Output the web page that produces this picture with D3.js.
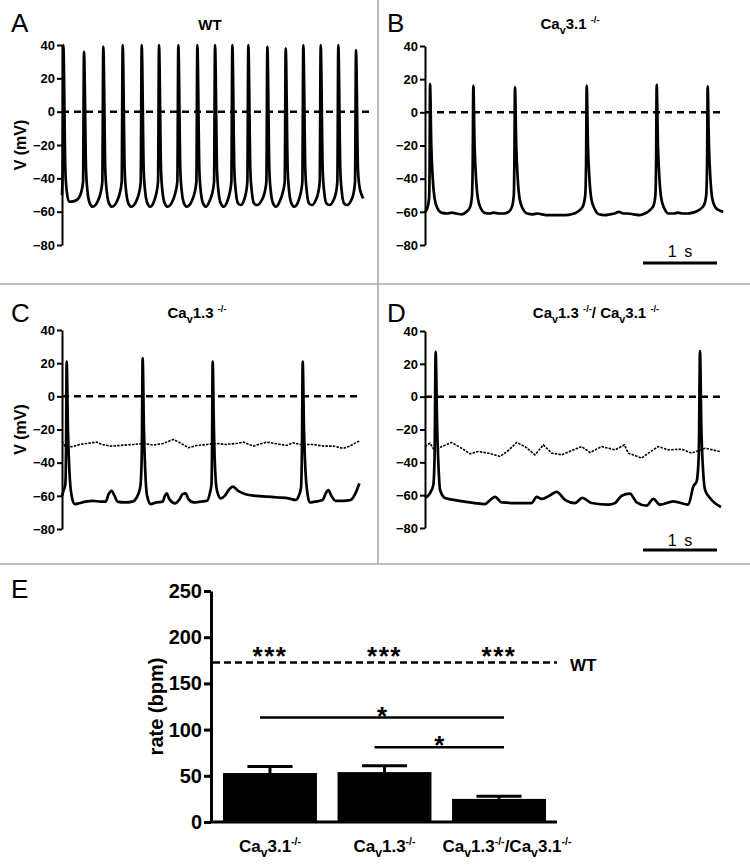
<!DOCTYPE html>
<html><head><meta charset="utf-8">
<script src="https://cdn.jsdelivr.net/npm/d3@7/dist/d3.min.js"></script>
<style>body{margin:0;background:#fff}svg{display:block}text{font-family:"Liberation Sans",Arial,sans-serif}</style>
</head><body><svg id="c" width="750" height="867"></svg>
<script>
// ---------- DATA ----------
const voltTicks = [40, 20, 0, -20, -40, -60, -80];
// traces: [time (s), V (mV)]
const traceWT = [[0,-50],[0.010,-30],[0.018,40],
[0.045,-35],[0.065,-48],[0.095,-54],[0.125,-54],[0.20,-53],[0.255,-49],[0.285,-42],[0.297,36],
[0.325,-35],[0.345,-48],[0.375,-55],[0.415,-57],[0.49,-53],[0.52,-49],[0.545,-42],[0.558,39],
[0.585,-35],[0.605,-48],[0.635,-55],[0.675,-57],[0.75,-53],[0.78,-49],[0.807,-42],[0.82,40],
[0.847,-35],[0.867,-48],[0.897,-55],[0.937,-57],[1.01,-53],[1.04,-49],[1.064,-42],[1.077,40],
[1.104,-35],[1.124,-48],[1.154,-55],[1.194,-57],[1.25,-53],[1.275,-49],[1.298,-42],[1.311,40],
[1.338,-35],[1.358,-48],[1.388,-55],[1.428,-57],[1.50,-53],[1.53,-49],[1.559,-42],[1.572,40],
[1.599,-35],[1.619,-48],[1.649,-55],[1.689,-57],[1.76,-53],[1.79,-49],[1.816,-42],[1.829,40],
[1.856,-35],[1.876,-48],[1.906,-55],[1.946,-57],[2.00,-53],[2.03,-49],[2.055,-42],[2.068,40],
[2.095,-35],[2.115,-48],[2.145,-55],[2.185,-57],[2.24,-53],[2.265,-49],[2.289,-42],[2.302,40],
[2.329,-35],[2.349,-48],[2.379,-55],[2.419,-56],[2.46,-53],[2.485,-49],[2.505,-42],[2.518,40],
[2.545,-35],[2.565,-48],[2.595,-55],[2.635,-56],[2.70,-53],[2.735,-49],[2.762,-42],[2.775,39],
[2.802,-35],[2.822,-48],[2.852,-55],[2.892,-57],[2.95,-53],[2.98,-49],[3.01,-42],[3.023,38],
[3.05,-35],[3.07,-48],[3.10,-55],[3.14,-57],[3.20,-53],[3.225,-49],[3.248,-42],[3.261,40],
[3.288,-35],[3.308,-48],[3.338,-55],[3.378,-56],[3.43,-53],[3.46,-49],[3.483,-42],[3.496,40],
[3.523,-35],[3.543,-48],[3.573,-55],[3.613,-56],[3.67,-53],[3.70,-49],[3.721,-42],[3.734,40],
[3.761,-35],[3.781,-48],[3.811,-55],[3.851,-56],[3.91,-53],[3.94,-49],[3.96,-42],[3.973,37],
[4.00,-35],[4.02,-45],[4.05,-50],[4.07,-52]];

const traceB = [[0,-60],[0.03,-58],[0.055,-52],[0.062,-35],[0.068,17],
[0.085,-20],[0.105,-40],[0.13,-52],[0.17,-58],[0.22,-60.5],[0.30,-61],[0.36,-60.5],[0.42,-61],[0.50,-61.5],[0.56,-60],[0.61,-57],[0.635,-50],[0.645,-30],[0.653,16],
[0.67,-20],[0.69,-40],[0.715,-52],[0.755,-58],[0.80,-60.5],[0.87,-61],[0.93,-60.5],[1.00,-61],[1.06,-61],[1.13,-60],[1.175,-57],[1.20,-50],[1.208,-30],[1.216,15],
[1.233,-20],[1.253,-40],[1.278,-52],[1.32,-58],[1.38,-61],[1.46,-61.5],[1.52,-61],[1.58,-61.5],[1.66,-62],[1.74,-62],[1.82,-62],[1.90,-62],[1.98,-61.5],[2.06,-60],[2.13,-57],[2.165,-50],[2.177,-30],[2.185,16],
[2.202,-20],[2.222,-40],[2.247,-52],[2.29,-58],[2.35,-61.5],[2.43,-62],[2.50,-61.5],[2.56,-61],[2.62,-60],[2.68,-61],[2.74,-61],[2.82,-61.5],[2.90,-62],[2.97,-61],[3.04,-59],[3.09,-56],[3.113,-50],[3.123,-30],[3.131,16.5],
[3.148,-20],[3.168,-40],[3.193,-52],[3.235,-58],[3.29,-61],[3.36,-61],[3.42,-60.5],[3.48,-61],[3.55,-61],[3.62,-60.5],[3.70,-59],[3.77,-56],[3.80,-50],[3.812,-30],[3.82,15.7],
[3.837,-20],[3.857,-40],[3.882,-52],[3.92,-57],[3.97,-59],[4.03,-60]];

const traceC = [[0,-60],[0.02,-57],[0.045,-53],[0.055,-30],[0.063,21],
[0.08,-20],[0.10,-45],[0.13,-60],[0.17,-65],[0.23,-64.5],[0.32,-63.5],[0.42,-63],[0.52,-63.5],[0.59,-63.5],[0.63,-59],[0.67,-57],[0.71,-60],[0.75,-63.5],[0.85,-64],[0.95,-63.5],[1.03,-59],[1.06,-54],[1.078,-35],[1.09,23],
[1.107,-20],[1.125,-45],[1.15,-60],[1.2,-65],[1.27,-64],[1.36,-63.5],[1.39,-60],[1.415,-58.5],[1.45,-62],[1.53,-64.5],[1.59,-62],[1.63,-59],[1.67,-58.5],[1.71,-62],[1.78,-64],[1.88,-63.5],[1.96,-63],[2.0,-58],[2.02,-53],[2.028,-30],[2.036,21],
[2.053,-20],[2.07,-45],[2.095,-57],[2.145,-61.5],[2.2,-60],[2.26,-56],[2.31,-54.5],[2.38,-57],[2.48,-59],[2.62,-60],[2.78,-60.5],[2.92,-61],[3.06,-61.5],[3.16,-62.5],[3.2,-60],[3.23,-55],[3.243,-30],[3.253,21],
[3.27,-20],[3.29,-45],[3.315,-58],[3.35,-64],[3.42,-63.5],[3.52,-62.5],[3.57,-58],[3.6,-56.5],[3.64,-60],[3.7,-63],[3.8,-63],[3.9,-62.5],[3.96,-59],[4.018,-52.5]];

const traceCthin = [[0,-27],[0.04,-30],[0.13,-30.4],[0.243,-29],[0.333,-28.4],[0.468,-27.6],[0.536,-29],[0.649,-30],[0.784,-29.6],[0.964,-29],[1.099,-28.4],[1.234,-29.4],[1.369,-28.4],[1.505,-26],[1.595,-28],[1.707,-31],[1.82,-29.6],[1.955,-29],[2.09,-28.4],[2.225,-29],[2.36,-28.4],[2.45,-27.6],[2.586,-30],[2.766,-27.6],[2.901,-28.6],[3.036,-29.6],[3.126,-28],[3.216,-29],[3.396,-29],[3.532,-30],[3.667,-30],[3.802,-31.4],[3.892,-30],[3.982,-27.6],[4.018,-27]];

const traceD = [[0,-61.7],[0.068,-58.7],[0.113,-53.6],[0.13,-35],[0.144,27.3],
[0.165,-20],[0.185,-45],[0.203,-56.7],[0.27,-61.7],[0.405,-63],[0.676,-64.8],[0.81,-65.4],[0.88,-63],[0.946,-61],[1.036,-64.4],[1.216,-64.8],[1.441,-64.8],[1.509,-61],[1.577,-62.3],[1.667,-60.7],[1.779,-58],[1.892,-62.8],[2.027,-64.8],[2.126,-61.7],[2.252,-64.8],[2.477,-65.8],[2.568,-64.8],[2.658,-60.3],[2.77,-59.1],[2.86,-64.4],[2.995,-66.4],[3.086,-62.3],[3.176,-65.8],[3.356,-63.8],[3.559,-65.8],[3.626,-54.7],[3.671,-51.6],[3.70,-35],[3.716,27.7],
[3.735,-20],[3.758,-45],[3.784,-56.7],[3.851,-61.7],[4.0,-67.2]];

const traceDthin = [[0,-30.4],[0.068,-28.3],[0.135,-33.4],[0.225,-30.4],[0.36,-27.9],[0.495,-31.4],[0.608,-34.8],[0.72,-33.4],[0.856,-34.4],[1.014,-36.4],[1.126,-32.8],[1.239,-27.9],[1.351,-30.4],[1.486,-35.4],[1.599,-29.4],[1.712,-34.4],[1.847,-35.4],[2.027,-32],[2.117,-30.4],[2.23,-34],[2.387,-30.4],[2.568,-32.4],[2.694,-29.4],[2.748,-34.4],[2.928,-37.4],[3.018,-34.4],[3.153,-30.4],[3.288,-32.4],[3.468,-32],[3.604,-34.4],[3.784,-31.4],[3.986,-33.4]];

const rateTicks = [0, 50, 100, 150, 200, 250];
const rateCategories = ["Cav3.1-/-", "Cav1.3-/-", "Cav1.3-/-/Cav3.1-/-"];
const rateMeans = [53, 54, 25];
const rateSEM = [7, 7, 3];
const wtRate = 172.5;
const sigVsWT = ["***", "***", "***"];
const sigBrackets = [{from: 0, to: 2, y: 113, label: "*"}, {from: 1, to: 2, y: 81, label: "*"}];

// rich text parts
const titleParts = {
  A: [["WT", ""]],
  B: [["Ca", ""], ["v", "sub"], ["3.1 ", ""], ["-/-", "sup"]],
  C: [["Ca", ""], ["v", "sub"], ["1.3 ", ""], ["-/-", "sup"]],
  D: [["Ca", ""], ["v", "sub"], ["1.3 ", ""], ["-/-", "sup"], ["/ Ca", ""], ["v", "sub"], ["3.1 ", ""], ["-/-", "sup"]]
};
const catParts = [
  [["Ca", ""], ["v", "sub"], ["3.1", ""], ["-/-", "sup"]],
  [["Ca", ""], ["v", "sub"], ["1.3", ""], ["-/-", "sup"]],
  [["Ca", ""], ["v", "sub"], ["1.3", ""], ["-/-", "sup"], ["/Ca", ""], ["v", "sub"], ["3.1", ""], ["-/-", "sup"]]
];

// ---------- DRAW ----------
const svg = d3.select("#c");
const FONT = '"Liberation Sans", Arial, sans-serif';

function richText(g, parts, x, y, fs, anchor) {
  const t = g.append("text").attr("x", x).attr("y", y).attr("text-anchor", anchor)
    .attr("font-size", fs).attr("font-weight", "bold").attr("font-family", FONT).attr("fill", "#000");
  let shift = 0;
  parts.forEach(([s, kind]) => {
    let target = 0, size = fs;
    if (kind === "sub") { target = 0.32 * fs; size = 0.72 * fs; }
    if (kind === "sup") { target = -0.42 * fs; size = 0.62 * fs; }
    t.append("tspan").attr("dy", target - shift).attr("font-size", size).style("white-space", "pre").text(s);
    shift = target;
  });
  return t;
}

// dividers
const div = svg.append("g").attr("stroke", "#aaa").attr("stroke-width", 1.6);
div.append("line").attr("x1", 378).attr("x2", 378).attr("y1", 0).attr("y2", 564);
div.append("line").attr("x1", 0).attr("x2", 750).attr("y1", 284).attr("y2", 284);
div.append("line").attr("x1", 0).attr("x2", 750).attr("y1", 564).attr("y2", 564);

const PXS = 74; // px per second
const panels = [
  {id: "A", trace: traceWT, thin: null, axisX: 62, yTop: 45, yBot: 245, zeroEnd: 372, titleX: 210, titleY: 30, lx: 11, ly: 32, ylab: true, bar: null},
  {id: "B", trace: traceB, thin: null, axisX: 425, yTop: 46, yBot: 245, zeroEnd: 724, titleX: 570, titleY: 29, lx: 387, ly: 32, ylab: false, bar: {x: 643, y: 263, ty: 257}},
  {id: "C", trace: traceC, thin: traceCthin, axisX: 62, yTop: 330, yBot: 529, zeroEnd: 362, titleX: 197, titleY: 318, lx: 11, ly: 322, ylab: true, bar: null},
  {id: "D", trace: traceD, thin: traceDthin, axisX: 425, yTop: 331, yBot: 528, zeroEnd: 720, titleX: 596, titleY: 318, lx: 387, ly: 322, ylab: false, bar: {x: 643, y: 550, ty: 546}}
];

panels.forEach(p => {
  const g = svg.append("g");
  const x = d3.scaleLinear().domain([0, 1]).range([p.axisX, p.axisX + PXS]);
  const y = d3.scaleLinear().domain([-80, 40]).range([p.yBot, p.yTop]);
  // letter
  g.append("text").attr("x", p.lx).attr("y", p.ly).attr("font-size", 26).attr("font-family", FONT).text(p.id);
  // title
  richText(g, titleParts[p.id], p.titleX, p.titleY, 15, "middle");
  // axis
  const ax = g.append("g").attr("transform", `translate(${p.axisX},0)`)
    .call(d3.axisLeft(y).tickValues(voltTicks).tickSize(5).tickSizeOuter(0).tickPadding(2).tickFormat(d3.format("d")));
  ax.select(".domain").attr("stroke-width", 2);
  ax.selectAll(".tick line").attr("stroke-width", 2);
  ax.selectAll(".tick text").attr("font-size", 13).attr("font-weight", "bold").attr("font-family", FONT).attr("fill", "#000");
  if (p.ylab) {
    g.append("text").attr("transform", `translate(26,${(p.yTop + p.yBot) / 2}) rotate(-90)`)
      .attr("text-anchor", "middle").attr("font-size", 16).attr("font-weight", "bold").attr("font-family", FONT).text("V (mV)");
  }
  // zero dashed line
  g.append("line").attr("x1", p.axisX).attr("x2", p.zeroEnd).attr("y1", y(0)).attr("y2", y(0))
    .attr("stroke", "#000").attr("stroke-width", 2.5).attr("stroke-dasharray", "7,5");
  const line = d3.line().x(d => x(d[0])).y(d => y(d[1])).curve(d3.curveMonotoneX);
  if (p.thin) {
    g.append("path").datum(p.thin).attr("d", line.curve(d3.curveLinear)).attr("fill", "none")
      .attr("stroke", "#000").attr("stroke-width", 1.6).attr("stroke-dasharray", "2.5,1.2");
    line.curve(d3.curveMonotoneX);
  }
  g.append("path").datum(p.trace).attr("d", line).attr("fill", "none")
    .attr("stroke", "#000").attr("stroke-width", 2.7).attr("stroke-linejoin", "round");
  if (p.bar) {
    const len = x(1) - x(0);
    g.append("line").attr("x1", p.bar.x).attr("x2", p.bar.x + len).attr("y1", p.bar.y).attr("y2", p.bar.y)
      .attr("stroke", "#000").attr("stroke-width", 3);
    g.append("text").attr("x", p.bar.x + len / 2).attr("y", p.bar.ty).attr("text-anchor", "middle")
      .attr("font-size", 16).attr("font-family", FONT).attr("word-spacing", 3).text("1 s");
  }
});

// ---------- Panel E ----------
const gE = svg.append("g");
gE.append("text").attr("x", 11).attr("y", 598).attr("font-size", 26).attr("font-family", FONT).text("E");
const yR = d3.scaleLinear().domain([0, 250]).range([822, 591]);
const xB = d3.scaleBand().domain(rateCategories).range([211, 558]).paddingInner(0.18).paddingOuter(0.105);
const bw = xB.bandwidth();

// bars
gE.selectAll("rect.bar").data(rateCategories).join("rect").attr("class", "bar")
  .attr("x", d => xB(d)).attr("width", bw)
  .attr("y", (d, i) => yR(rateMeans[i])).attr("height", (d, i) => yR(0) - yR(rateMeans[i])).attr("fill", "#000");
// error bars
rateCategories.forEach((c, i) => {
  const cx = xB(c) + bw / 2;
  gE.append("line").attr("x1", cx).attr("x2", cx).attr("y1", yR(rateMeans[i])).attr("y2", yR(rateMeans[i] + rateSEM[i]))
    .attr("stroke", "#000").attr("stroke-width", 3);
  gE.append("line").attr("x1", cx - bw * 0.24).attr("x2", cx + bw * 0.24)
    .attr("y1", yR(rateMeans[i] + rateSEM[i])).attr("y2", yR(rateMeans[i] + rateSEM[i]))
    .attr("stroke", "#000").attr("stroke-width", 3);
});
// axes
const axE = gE.append("g").attr("transform", "translate(211,0)")
  .call(d3.axisLeft(yR).tickValues(rateTicks).tickSize(7).tickSizeOuter(0).tickPadding(2));
axE.select(".domain").attr("stroke-width", 3);
axE.selectAll(".tick line").attr("stroke-width", 3);
axE.selectAll(".tick text").attr("font-size", 20).attr("font-weight", "bold").attr("font-family", FONT).attr("fill", "#000");
gE.append("line").attr("x1", 210).attr("x2", 557).attr("y1", yR(0)).attr("y2", yR(0)).attr("stroke", "#000").attr("stroke-width", 3);
gE.append("text").attr("transform", `translate(163,${yR(125)}) rotate(-90)`).attr("text-anchor", "middle")
  .attr("font-size", 20).attr("font-weight", "bold").attr("font-family", FONT).text("rate (bpm)");

// WT line
gE.append("line").attr("x1", 213).attr("x2", 557).attr("y1", yR(wtRate)).attr("y2", yR(wtRate))
  .attr("stroke", "#000").attr("stroke-width", 2.5).attr("stroke-dasharray", "7,4");
gE.append("text").attr("x", 570).attr("y", yR(wtRate) + 2 + 0).attr("dy", "0.35em").attr("font-size", 17)
  .attr("font-weight", "bold").attr("font-family", FONT).text("WT");
// stars vs WT
sigVsWT.forEach((s, i) => {
  gE.append("text").attr("x", xB(rateCategories[i]) + bw / 2).attr("y", yR(wtRate) + 2).attr("text-anchor", "middle")
    .attr("font-size", 26).attr("font-weight", "bold").attr("letter-spacing", 1.5).attr("font-family", FONT).text(s);
});
// brackets
sigBrackets.forEach(b => {
  const x1 = xB(rateCategories[b.from]) + bw / 2 - 10;
  const x2 = xB(rateCategories[b.to]) + bw / 2 + 5;
  gE.append("line").attr("x1", x1).attr("x2", x2).attr("y1", yR(b.y)).attr("y2", yR(b.y)).attr("stroke", "#000").attr("stroke-width", 2.5);
  gE.append("text").attr("x", (x1 + x2) / 2).attr("y", yR(b.y) + 7).attr("text-anchor", "middle")
    .attr("font-size", 26).attr("font-weight", "bold").attr("font-family", FONT).text(b.label);
});
// category labels
rateCategories.forEach((c, i) => {
  richText(gE, catParts[i], xB(c) + bw / 2 + (i === 2 ? 8 : 0), 852, 17, "middle");
});
</script></body></html>
